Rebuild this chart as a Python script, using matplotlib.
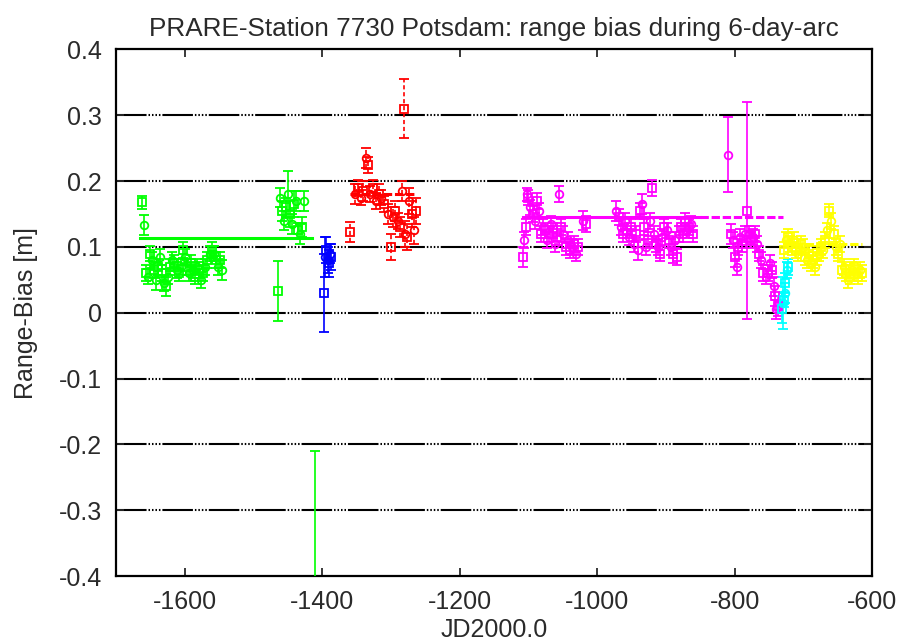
import numpy as np
import matplotlib
matplotlib.use("Agg")
from matplotlib import pyplot as plt
from matplotlib.ticker import FixedLocator, FuncFormatter

# range bias per arc: epoch [JD2000.0], bias [m], sigma [m]
green_jd = [-1662, -1660, -1657, -1654, -1651, -1648, -1645, -1642, -1639, -1636,
            -1633, -1630, -1627, -1624, -1621, -1618, -1615, -1612, -1609, -1606,
            -1603, -1600, -1597, -1594, -1591, -1588, -1585, -1582, -1579, -1576,
            -1573, -1570, -1567, -1564, -1561, -1558, -1555, -1552, -1549, -1546,
            -1465, -1462, -1459, -1456, -1453, -1450, -1447, -1444, -1441, -1438,
            -1435, -1432, -1429, -1426, -1411]
green_bias = [0.168, 0.133, 0.06, 0.055, 0.09, 0.08, 0.065, 0.05, 0.07, 0.085,
              0.06, 0.045, 0.04, 0.055, 0.07, 0.08, 0.075, 0.065, 0.06, 0.07,
              0.095, 0.085, 0.07, 0.06, 0.075, 0.065, 0.055, 0.07, 0.065, 0.05,
              0.06, 0.07, 0.08, 0.09, 0.095, 0.09, 0.08, 0.07, 0.08, 0.065,
              0.033, 0.175, 0.155, 0.14, 0.16, 0.18, 0.15, 0.135, 0.165, 0.17,
              0.125, 0.12, 0.13, 0.17, -0.55]
green_sig = [0.01, 0.015, 0.012, 0.012, 0.012, 0.012, 0.012, 0.015, 0.012, 0.012,
             0.012, 0.012, 0.015, 0.012, 0.012, 0.012, 0.012, 0.012, 0.012, 0.012,
             0.012, 0.012, 0.012, 0.012, 0.012, 0.012, 0.012, 0.012, 0.012, 0.012,
             0.012, 0.012, 0.012, 0.012, 0.012, 0.012, 0.012, 0.012, 0.012, 0.015,
             0.045, 0.015, 0.015, 0.015, 0.015, 0.035, 0.02, 0.015, 0.02, 0.015,
             0.012, 0.015, 0.015, 0.015, 0.34]

blue_jd = [-1398, -1396, -1394, -1392, -1390, -1388, -1387]
blue_bias = [0.03, 0.085, 0.095, 0.08, 0.075, 0.09, 0.085]
blue_sig = [0.06, 0.03, 0.02, 0.02, 0.02, 0.015, 0.02]

red_jd = [-1360, -1352, -1348, -1344, -1340, -1336, -1333, -1330, -1326, -1322,
          -1318, -1314, -1310, -1305, -1300, -1297, -1294, -1290, -1287, -1284,
          -1281, -1279, -1276, -1273, -1270, -1267, -1264]
red_bias = [0.123, 0.18, 0.19, 0.175, 0.185, 0.235, 0.225, 0.18, 0.19, 0.17,
            0.18, 0.175, 0.165, 0.15, 0.1, 0.145, 0.155, 0.14, 0.13, 0.185,
            0.31, 0.12, 0.115, 0.17, 0.15, 0.125, 0.155]
red_sig = [0.015, 0.015, 0.012, 0.012, 0.015, 0.015, 0.012, 0.012, 0.012, 0.012,
           0.015, 0.012, 0.012, 0.015, 0.02, 0.015, 0.015, 0.012, 0.015, 0.015,
           0.045, 0.02, 0.02, 0.02, 0.02, 0.02, 0.02]

magenta_jd = [-1108, -1106, -1104, -1102, -1100, -1097, -1094, -1091, -1088, -1085,
              -1082, -1079, -1076, -1073, -1070, -1067, -1064, -1061, -1058, -1055,
              -1052, -1049, -1046, -1043, -1040, -1037, -1034, -1031, -1028, -1020,
              -1016, -972, -968, -965, -962, -959, -956, -953, -950, -947,
              -944, -941, -938, -935, -932, -929, -926, -923, -920, -917,
              -914, -911, -908, -905, -902, -899, -896, -893, -890, -887,
              -884, -881, -878, -875, -872, -869, -866, -863, -860,
              -810, -805, -802, -799, -797, -795, -792, -789, -785, -782,
              -779, -776, -773, -770, -767, -764, -761, -758, -755, -752,
              -749, -746, -743, -741, -739, -737]
magenta_bias = [0.085, 0.11, 0.13, 0.18, 0.175, 0.16, 0.15, 0.14, 0.17, 0.155,
                0.12, 0.13, 0.125, 0.11, 0.12, 0.135, 0.125, 0.105, 0.115, 0.18,
                0.13, 0.12, 0.1, 0.11, 0.095, 0.1, 0.105, 0.09, 0.1, 0.14,
                0.135, 0.155, 0.145, 0.13, 0.12, 0.14, 0.125, 0.115, 0.13, 0.105,
                0.12, 0.095, 0.155, 0.165, 0.13, 0.1, 0.11, 0.14, 0.19, 0.12,
                0.105, 0.1, 0.09, 0.115, 0.13, 0.125, 0.11, 0.1, 0.09, 0.11,
                0.085, 0.12, 0.13, 0.12, 0.14, 0.125, 0.13, 0.135, 0.12,
                0.24, 0.12, 0.11, 0.085, 0.07, 0.1, 0.115, 0.105, 0.12, 0.155,
                0.12, 0.11, 0.115, 0.12, 0.105, 0.09, 0.08, 0.06, 0.055, 0.06,
                0.075, 0.065, 0.04, 0.025, 0.005, 0.01]
magenta_sig = [0.015, 0.012, 0.012, 0.01, 0.012, 0.012, 0.012, 0.012, 0.012, 0.012,
               0.012, 0.012, 0.012, 0.012, 0.012, 0.012, 0.012, 0.012, 0.012, 0.012,
               0.012, 0.012, 0.012, 0.012, 0.012, 0.012, 0.012, 0.012, 0.012, 0.015,
               0.012, 0.015, 0.012, 0.012, 0.012, 0.012, 0.012, 0.012, 0.012, 0.012,
               0.012, 0.015, 0.012, 0.015, 0.012, 0.012, 0.012, 0.012, 0.012, 0.012,
               0.012, 0.012, 0.012, 0.012, 0.012, 0.012, 0.012, 0.012, 0.015, 0.012,
               0.012, 0.012, 0.012, 0.012, 0.012, 0.012, 0.012, 0.012, 0.012,
               0.057, 0.015, 0.012, 0.015, 0.012, 0.012, 0.012, 0.012, 0.012, 0.165,
               0.012, 0.012, 0.012, 0.012, 0.012, 0.012, 0.012, 0.012, 0.012, 0.012,
               0.012, 0.012, 0.015, 0.015, 0.015, 0.015]

cyan_jd = [-731, -729, -728, -727, -726, -724, -722]
cyan_bias = [0.005, 0.015, 0.02, 0.03, 0.045, 0.065, 0.07]
cyan_sig = [0.02, 0.04, 0.012, 0.015, 0.015, 0.012, 0.012]

yellow_jd = [-728, -725, -722, -719, -716, -713, -710, -707, -704, -701,
             -698, -695, -692, -689, -686, -683, -680, -677, -674, -671,
             -668, -665, -662, -659, -656, -653, -650, -647, -644, -641,
             -638, -635, -632, -629, -626, -623, -620, -617, -614]
yellow_bias = [0.095, 0.11, 0.115, 0.105, 0.1, 0.11, 0.095, 0.09, 0.105, 0.1,
               0.085, 0.08, 0.09, 0.075, 0.08, 0.07, 0.085, 0.09, 0.1, 0.095,
               0.11, 0.125, 0.155, 0.14, 0.12, 0.1, 0.09, 0.105, 0.065, 0.07,
               0.06, 0.05, 0.055, 0.065, 0.07, 0.06, 0.055, 0.065, 0.06]
yellow_sig = [0.012] * 22 + [0.01] + [0.012] * 16

# mean bias per arc group: start, end, value
green_mean = (-1665, -1415, 0.113)
red_mean = (-1360, -1265, 0.18)
magenta_mean = (-1108, -850, 0.145)
magenta_mean2 = (-850, -730, 0.145)
yellow_mean = (-729, -615, 0.105)

X_MIN, X_MAX = -1700, -600
Y_MIN, Y_MAX = -0.4, 0.4
TEXT_COLOR = "#2a2a2a"


def plot_arcs(ax, jd, bias, sig, color, dashed=False):
    jd = np.asarray(jd)
    bias = np.asarray(bias)
    sig = np.asarray(sig)
    for k, marker in enumerate(("s", "o")):
        sel = slice(k, None, 2)
        eb = ax.errorbar(jd[sel], bias[sel], yerr=sig[sel], fmt=marker,
                         color=color, mfc="none", mec=color, ms=5.5, mew=1.3,
                         elinewidth=1.2, capsize=3.5, capthick=1.2, zorder=3)
        if dashed:
            eb[2][0].set_linestyle((0, (3, 2)))


def plot_mean(ax, seg, color, dashed=False):
    x0, x1, val = seg
    ls = (0, (6, 2)) if dashed else "-"
    ax.plot([x0, x1], [val, val], color=color, lw=2.2, ls=ls, zorder=4)


def plot_bias():
    plt.rcParams["font.family"] = ["Liberation Sans", "DejaVu Sans"]
    plt.rcParams["axes.unicode_minus"] = False
    plt.rcParams["lines.scale_dashes"] = False

    fig = plt.figure(figsize=(9.03, 6.41), dpi=100)
    ax = fig.add_axes([0.1285, 0.1014, 0.8372, 0.8214])

    # horizontal grid: long dash followed by a run of dots
    grid_dash = (0, (22, 1.4, 1.1, 1.4, 1.1, 1.4, 1.1, 1.4, 1.1, 1.4))
    for y in np.arange(-0.3, 0.31, 0.1):
        ax.axhline(y, color="black", lw=1.5, ls=grid_dash, zorder=1)

    plot_arcs(ax, green_jd, green_bias, green_sig, "#00ff00")
    plot_arcs(ax, blue_jd, blue_bias, blue_sig, "#0000ff")
    plot_arcs(ax, red_jd, red_bias, red_sig, "#ff0000", dashed=True)
    plot_arcs(ax, magenta_jd, magenta_bias, magenta_sig, "#ff00ff")
    plot_arcs(ax, cyan_jd, cyan_bias, cyan_sig, "#00ffff")
    plot_arcs(ax, yellow_jd, yellow_bias, yellow_sig, "#ffff00")

    plot_mean(ax, green_mean, "#00ff00")
    plot_mean(ax, red_mean, "#ff0000", dashed=True)
    plot_mean(ax, magenta_mean, "#ff00ff")
    plot_mean(ax, magenta_mean2, "#ff00ff", dashed=True)
    plot_mean(ax, yellow_mean, "#ffff00", dashed=True)

    ax.set_xlim(X_MIN, X_MAX)
    ax.set_ylim(Y_MIN, Y_MAX)
    ax.xaxis.set_major_locator(FixedLocator(np.arange(-1600, -599, 200)))
    ax.yaxis.set_major_locator(FixedLocator(np.arange(-0.4, 0.41, 0.1)))
    ax.yaxis.set_major_formatter(
        FuncFormatter(lambda v, p: "0" if abs(v) < 1e-9 else f"{v:.1f}"))
    ax.tick_params(direction="in", length=6, width=1.3, labelsize=18,
                   top=True, right=True, pad=10, colors=TEXT_COLOR)
    for side in ax.spines.values():
        side.set_linewidth(1.6)

    ax.set_title("PRARE-Station 7730 Potsdam: range bias during 6-day-arc",
                 fontsize=18.8, pad=10, color=TEXT_COLOR)
    ax.set_xlabel("JD2000.0", fontsize=18, labelpad=3, color=TEXT_COLOR)
    ax.set_ylabel("Range-Bias [m]", fontsize=18, labelpad=15, color=TEXT_COLOR)

    fig.savefig("out.png", dpi=100)
    plt.close(fig)


plot_bias()
